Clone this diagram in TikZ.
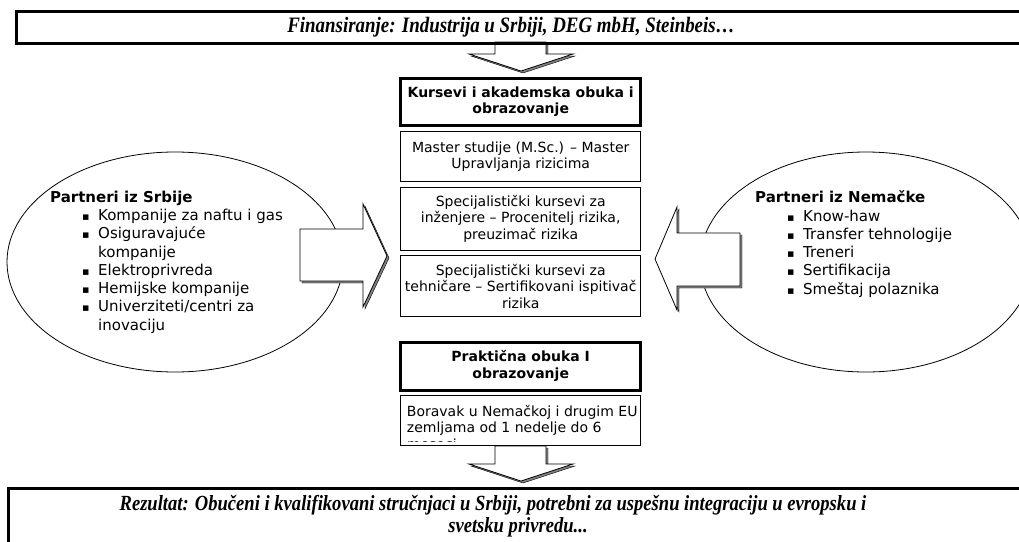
\documentclass[tikz,border=0pt]{standalone}
\usepackage{fontspec}
\usepackage{tikz}
\newfontfamily\verd{DejaVu Sans}
\newfontfamily\timesbi{Liberation Serif}[FakeStretch=0.86]
% bullet and continuation indent for the partner lists
\newcommand{\blt}{\hspace*{32pt}\makebox[16pt][l]{\fontsize{11}{11}\selectfont ▪}}
\newcommand{\bltc}{\hspace*{48pt}}

\begin{document}
\begin{tikzpicture}[x=1pt,y=-1pt,
    cbox/.style={draw, line width=1pt, minimum width=240pt, inner sep=0pt, align=center,
      font=\verd\fontsize{14}{16.5}\selectfont},
    headbox/.style={cbox, line width=3pt, font=\verd\bfseries\fontsize{14}{16.5}\selectfont},
    banner/.style={draw, line width=3pt},
    bannertext/.style={inner sep=0pt, font=\timesbi\bfseries\itshape\fontsize{22}{22}\selectfont},
    partner/.style={draw, line width=0.8pt},
    plist/.style={anchor=north west, inner sep=0pt, align=left,
      font=\verd\fontsize{15}{18.3}\selectfont},
    shade/.style={fill=black!50, xshift=2pt, yshift=-2pt},
    blockarrow/.style={draw, fill=white, line width=0.8pt, line join=miter}]
  \useasboundingbox (0,0) rectangle (1019,541);
  \pgfmathsetmacro{\cx}{520.7}
  % Partner ellipses
  \draw[partner] (175,262) ellipse [x radius=168pt, y radius=110pt];
  \draw[partner] (866,262) ellipse [x radius=166pt, y radius=110pt];
  \node[plist] (srb) at (50,190.5) {\textbf{Partneri iz Srbije}\\
    \blt Kompanije za naftu i gas\\
    \blt Osiguravajuće\\
    \bltc kompanije\\
    \blt Elektroprivreda\\
    \blt Hemijske kompanije\\
    \blt Univerziteti/centri za\\
    \bltc inovaciju};
  \node[plist] (nem) at (755,190.5) {\textbf{Partneri iz Nemačke}\\
    \blt Know-haw\\
    \blt Transfer tehnologije\\
    \blt Treneri\\
    \blt Sertifikacija\\
    \blt Smeštaj polaznika};
  % Center column
  \node[headbox, minimum height=47pt] (kurs) at (\cx,101.7) {Kursevi i akademska obuka i\\obrazovanje};
  \node[cbox, minimum height=50pt] (master) at (\cx,156.5) {Master studije (M.Sc.) – Master\\Upravljanja rizicima};
  \node[cbox, minimum height=63pt] (inz) at (\cx,218.5) {Specijalistički kursevi za\\inženjere – Procenitelj rizika,\\preuzimač rizika};
  \node[cbox, minimum height=61.5pt] (teh) at (\cx,286) {Specijalistički kursevi za\\tehničare – Sertifikovani ispitivač\\rizika};
  \node[headbox, minimum height=48pt] (prakt) at (\cx,366) {Praktična obuka I\\obrazovanje};
  \node[cbox, minimum height=50pt] (borav) at (\cx,420.5) {};
  \begin{scope}
    \clip ([yshift=5pt]borav.south west) rectangle (borav.north east);
    \node[anchor=north west, inner sep=0pt, align=left, font=\verd\fontsize{14}{16.5}\selectfont]
      (boravtxt) at ([shift={(6.5,10)}]borav.north west) {Boravak u Nemačkoj i drugim EU\\zemljama od 1 nedelje do 6\\meseci};
  \end{scope}
  % Block arrows, shadow first
  \foreach \s in {shade,blockarrow} {
    \draw[\s] (495,42) -- (495,54) -- (469,54) -- (521,71) -- (573,54) -- (546,54) -- (546,42) -- cycle;
    \draw[\s] (495,446) -- (495,464) -- (469,464) -- (521,481) -- (573,464) -- (546,464) -- (546,446) -- cycle;
    \draw[\s] (300,229) -- (363,229) -- (363,204) -- (387,256) -- (363,307) -- (363,281) -- (300,281) -- cycle;
    \draw[\s] (740,233) -- (677,233) -- (677,207) -- (655,259) -- (677,310) -- (677,286) -- (740,286) -- cycle;
  }
  % Banners
  \draw[banner] (16,11) rectangle (1040,43);
  \node[bannertext] (fin) at (511,27) {Finansiranje: Industrija u Srbiji, DEG mbH, Steinbeis…};
  \draw[banner] (8,560) -- (8,488) -- (1040,488);
  \node[bannertext, font=\timesbi\bfseries\itshape\fontsize{21.6}{22}\selectfont] (rez) at (493,505)
    {Rezultat: Obučeni i kvalifikovani stručnjaci u Srbiji, potrebni za uspešnu integraciju u evropsku i};
  \node[bannertext, font=\timesbi\bfseries\itshape\fontsize{21.6}{22}\selectfont] (rez2) at (518,527) {svetsku privredu...};
\end{tikzpicture}
\end{document}
